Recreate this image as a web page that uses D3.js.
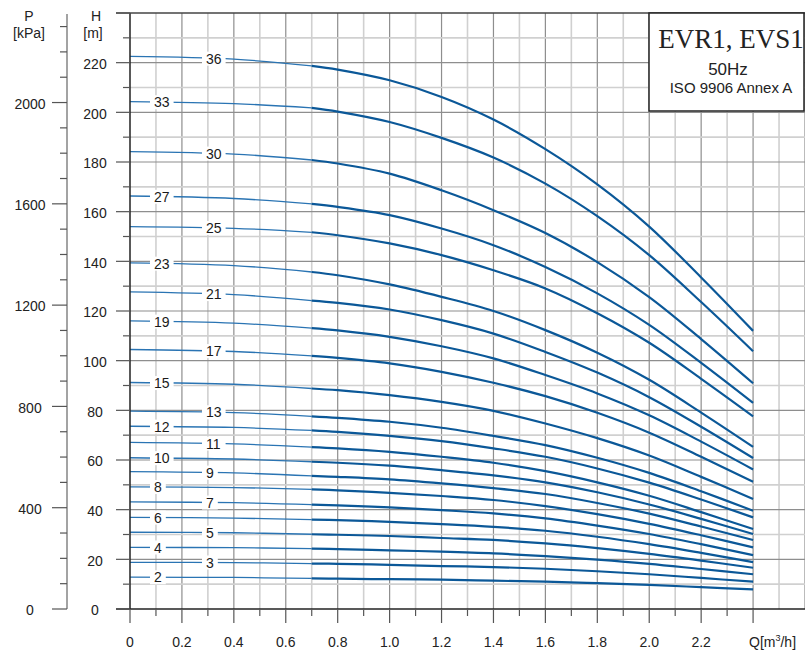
<!DOCTYPE html>
<html>
<head>
<meta charset="utf-8">
<script src="https://cdn.jsdelivr.net/npm/d3@7"></script>
<style>
  html, body { margin: 0; padding: 0; background: #fff; }
  svg { display: block; font-family: "Liberation Sans", Arial, sans-serif; }
</style>
</head>
<body>
<svg id="chart" width="805" height="651"></svg>
<script>
// ---- data ----
const qValues = [0, 0.4, 0.7, 0.8, 1.0, 1.2, 1.4, 1.6, 1.8, 2.0, 2.2, 2.4];
const h36 = [222.5, 221.4, 218.7, 217.2, 212.9, 206.2, 197.1, 185.2, 171.0, 154.0, 133.5, 112.0];
const h33 = [204.3, 203.5, 201.8, 200.3, 196.1, 189.7, 181.8, 171.3, 158.2, 142.5, 123.6, 103.8];
const h30 = [184.2, 183.2, 180.8, 179.4, 175.3, 168.6, 160.6, 151.4, 139.7, 125.6, 108.7, 90.9];
const h27 = [166.3, 165.3, 163.1, 161.9, 158.6, 153.2, 146.5, 137.7, 127.1, 114.4, 99.1, 83.0];
const h25 = [154.0, 153.3, 151.7, 150.5, 147.2, 142.5, 136.4, 129.1, 119.1, 107.2, 92.7, 77.6];
const h23 = [139.4, 138.3, 135.7, 134.4, 130.7, 125.7, 120.0, 112.3, 103.2, 92.3, 79.1, 65.3];
const h21 = [127.7, 126.6, 124.2, 123.3, 120.6, 116.3, 110.9, 103.5, 95.2, 85.3, 73.4, 60.8];
const h19 = [116.0, 115.1, 113.1, 112.2, 109.6, 105.8, 100.9, 94.2, 86.8, 78.0, 67.4, 56.2];
const h17 = [104.5, 103.7, 101.9, 101.1, 98.9, 95.5, 91.1, 85.7, 79.0, 71.0, 61.3, 51.2];
const h15 = [91.2, 90.5, 88.8, 88.1, 86.1, 83.4, 79.8, 74.7, 68.8, 61.8, 53.2, 44.3];
const h13 = [79.7, 79.1, 77.6, 77.0, 75.4, 73.0, 69.7, 66.0, 60.9, 54.8, 47.4, 39.6];
const h12 = [73.6, 73.1, 71.9, 71.3, 69.7, 67.6, 64.7, 61.3, 56.6, 50.9, 44.1, 36.9];
const h11 = [67.1, 66.5, 65.2, 64.7, 63.3, 61.3, 58.9, 55.5, 51.0, 45.6, 39.0, 32.2];
const h10 = [60.9, 60.4, 59.3, 58.9, 57.7, 55.9, 53.8, 51.0, 47.0, 42.1, 36.3, 30.2];
const h9  = [55.3, 54.8, 53.6, 53.2, 52.2, 50.6, 48.7, 46.3, 42.7, 38.4, 33.2, 27.8];
const h8  = [49.2, 48.9, 48.2, 47.8, 46.8, 45.5, 43.9, 41.4, 38.2, 34.3, 29.7, 24.8];
const h7  = [43.1, 42.8, 42.0, 41.7, 40.9, 39.8, 38.5, 36.5, 33.6, 30.2, 26.1, 21.7];
const h6  = [36.9, 36.6, 36.0, 35.8, 35.1, 34.2, 33.1, 31.5, 29.1, 26.1, 22.6, 18.9];
const h5  = [30.9, 30.7, 30.1, 29.9, 29.4, 28.6, 27.8, 26.4, 24.5, 22.2, 19.5, 16.6];
const h4  = [24.8, 24.7, 24.3, 24.1, 23.6, 23.1, 22.4, 21.3, 19.9, 18.2, 16.1, 14.0];
const h3  = [18.8, 18.7, 18.3, 18.2, 17.8, 17.3, 16.9, 16.2, 15.2, 14.0, 12.5, 11.0];
const h2  = [12.8, 12.7, 12.3, 12.2, 12.0, 11.8, 11.4, 11.0, 10.4, 9.7, 8.8, 7.9];

const stages = [36, 33, 30, 27, 25, 23, 21, 19, 17, 15, 13, 12, 11, 10, 9, 8, 7, 6, 5, 4, 3, 2];
const heads  = [h36, h33, h30, h27, h25, h23, h21, h19, h17, h15, h13, h12, h11, h10, h9, h8, h7, h6, h5, h4, h3, h2];

const xTickLabels = ["0", "0.2", "0.4", "0.6", "0.8", "1.0", "1.2", "1.4", "1.6", "1.8", "2.0", "2.2"];
const hTickValues = [0, 20, 40, 60, 80, 100, 120, 140, 160, 180, 200, 220];
const pTickValues = [0, 400, 800, 1200, 1600, 2000];
const titleLines = ["EVR1, EVS1", "50Hz", "ISO 9906 Annex A"];

// ---- layout ----
const svg = d3.select("#chart");
const plotL = 130, plotR = 805, plotT = 13, plotB = 609;
const x = d3.scaleLinear().domain([0, 2.6]).range([plotL, plotR]);
const y = d3.scaleLinear().domain([0, 240]).range([plotB, plotT]);
const p = d3.scaleLinear().domain([0, 240 * 9.80665]).range([plotB, plotT]);

const gMinor = "#d0d0d0", gMajor = "#8e8e8e";

// grid
const grid = svg.append("g");
d3.range(1, 27).forEach(i => {
  const q = i / 10;
  grid.append("line")
    .attr("x1", x(q)).attr("x2", x(q)).attr("y1", plotT).attr("y2", plotB)
    .attr("stroke", i % 2 === 0 ? gMajor : gMinor)
    .attr("stroke-width", i % 2 === 0 ? 1.2 : 1.6);
});
d3.range(1, 24).forEach(i => {
  const h = i * 10;
  grid.append("line")
    .attr("x1", plotL).attr("x2", plotR).attr("y1", y(h)).attr("y2", y(h))
    .attr("stroke", i % 2 === 0 ? gMajor : gMinor)
    .attr("stroke-width", i % 2 === 0 ? 1.2 : 1.6);
});

// curves
const lineGen = d3.line().x(d => x(d[0])).y(d => y(d[1])).curve(d3.curveCatmullRom.alpha(0.5));
const curvesG = svg.append("g");
heads.forEach((h, i) => {
  const pts = qValues.map((q, k) => [q, h[k]]);
  const thin = pts.filter(d => d[0] <= 0.7);
  const thick = pts.filter(d => d[0] >= 0.7);
  curvesG.append("path").attr("d", lineGen(thin))
    .attr("fill", "none").attr("stroke", "#2a74b3").attr("stroke-width", 1.3);
  curvesG.append("path").attr("d", lineGen(thick))
    .attr("fill", "none").attr("stroke", "#0b5898").attr("stroke-width", 2.2);
});

// curve labels
const labelsG = svg.append("g");
heads.forEach((h, i) => {
  const stage = stages[i];
  const rightSide = i % 2 === 0;
  const xLeft = rightSide ? 206 : 154;
  const txt = String(stage);
  const w = txt.length * 7.8;
  const qc = x.invert(xLeft + w / 2);
  const hc = h[0] + (h[1] - h[0]) * (qc - qValues[0]) / (qValues[1] - qValues[0]);
  const yc = y(hc);
  labelsG.append("rect")
    .attr("x", xLeft - 4).attr("y", yc - 7).attr("width", w + 8).attr("height", 14)
    .attr("fill", "#fff");
  labelsG.append("text")
    .attr("x", xLeft).attr("y", yc).attr("dy", "0.36em")
    .attr("font-size", 14).attr("fill", "#1a1a1a").text(txt);
});

// frame / axes
const axisColor = "#222";
svg.append("line").attr("x1", plotL).attr("x2", plotL).attr("y1", plotT).attr("y2", plotB)
  .attr("stroke", axisColor).attr("stroke-width", 1.5);
svg.append("line").attr("x1", 116).attr("x2", plotR).attr("y1", plotB).attr("y2", plotB)
  .attr("stroke", axisColor).attr("stroke-width", 1.5);
svg.append("line").attr("x1", 116).attr("x2", plotR).attr("y1", plotT).attr("y2", plotT)
  .attr("stroke", "#444").attr("stroke-width", 1.5);

// H axis ticks
d3.range(0, 25).forEach(i => {
  const h = i * 10;
  svg.append("line")
    .attr("x1", i % 2 === 0 ? 116 : 123).attr("x2", plotL)
    .attr("y1", y(h)).attr("y2", y(h))
    .attr("stroke", "#555").attr("stroke-width", 1.2);
});
svg.append("g").selectAll("text").data(hTickValues).join("text")
  .attr("x", 95).attr("y", d => y(d)).attr("dy", "0.45em")
  .attr("text-anchor", "middle").attr("font-size", 14).attr("fill", "#222")
  .text(d => d);
svg.append("text").attr("x", 96).attr("y", 21).attr("text-anchor", "middle")
  .attr("font-size", 14).attr("fill", "#222").text("H");
svg.append("text").attr("x", 93).attr("y", 38).attr("text-anchor", "middle")
  .attr("font-size", 14).attr("fill", "#222").text("[m]");

// P axis
const pAxisX = 67;
svg.append("line").attr("x1", pAxisX).attr("x2", pAxisX).attr("y1", plotT + 1).attr("y2", plotB)
  .attr("stroke", "#666").attr("stroke-width", 1.2);
d3.range(0, 24).forEach(i => {
  const v = i * 100;
  svg.append("line")
    .attr("x1", i % 4 === 0 ? 52 : 60).attr("x2", pAxisX)
    .attr("y1", p(v)).attr("y2", p(v))
    .attr("stroke", "#555").attr("stroke-width", 1.2);
});
svg.append("g").selectAll("text").data(pTickValues).join("text")
  .attr("x", 30).attr("y", d => p(d)).attr("dy", "0.45em")
  .attr("text-anchor", "middle").attr("font-size", 14).attr("fill", "#222")
  .text(d => d);
svg.append("text").attr("x", 29).attr("y", 21).attr("text-anchor", "middle")
  .attr("font-size", 14).attr("fill", "#222").text("P");
svg.append("text").attr("x", 29).attr("y", 38).attr("text-anchor", "middle")
  .attr("font-size", 14).attr("fill", "#222").text("[kPa]");

// X axis ticks
d3.range(0, 25).forEach(i => {
  const q = i / 10;
  svg.append("line")
    .attr("x1", x(q)).attr("x2", x(q))
    .attr("y1", plotB).attr("y2", i % 2 === 0 ? 623 : 616)
    .attr("stroke", "#555").attr("stroke-width", 1.2);
});
svg.append("g").selectAll("text").data(xTickLabels).join("text")
  .attr("x", (d, i) => x(i * 0.2)).attr("y", 647)
  .attr("text-anchor", "middle").attr("font-size", 14).attr("fill", "#222")
  .text(d => d);
const qLabel = svg.append("text").attr("x", 749).attr("y", 647)
  .attr("font-size", 14).attr("fill", "#222");
qLabel.append("tspan").text("Q[m");
qLabel.append("tspan").attr("font-size", 9).attr("dy", -6).text("3");
qLabel.append("tspan").attr("dy", 6).text("/h]");

// title box
svg.append("rect").attr("x", 649).attr("y", plotT).attr("width", 155).attr("height", 98)
  .attr("fill", "#fff").attr("stroke", "#222").attr("stroke-width", 1.5);
svg.append("text").attr("x", 731).attr("y", 48).attr("text-anchor", "middle")
  .attr("font-family", "'Liberation Serif', 'Times New Roman', serif")
  .attr("font-size", 27).attr("fill", "#222").text(titleLines[0]);
svg.append("text").attr("x", 728).attr("y", 75).attr("text-anchor", "middle")
  .attr("font-size", 17).attr("fill", "#222").text(titleLines[1]);
svg.append("text").attr("x", 731).attr("y", 93).attr("text-anchor", "middle")
  .attr("font-size", 15).attr("fill", "#222").text(titleLines[2]);
</script>
</body>
</html>
